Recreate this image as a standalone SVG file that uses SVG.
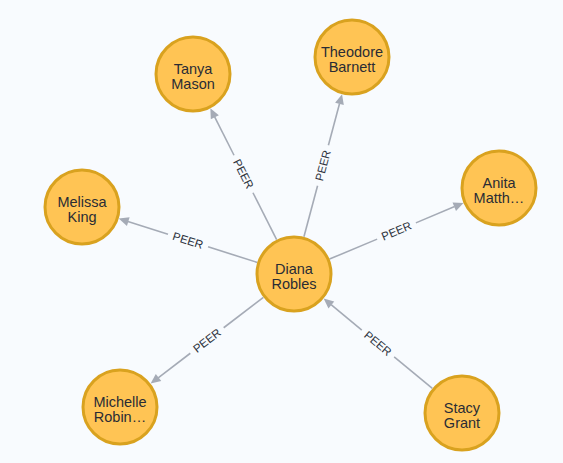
<svg xmlns="http://www.w3.org/2000/svg" width="563" height="463" viewBox="0 0 563 463">
<style>
.bg{fill:#f8fbfe}
.edge line{stroke:#a5abb6;stroke-width:1.6}
.edge polygon{fill:#a5abb6}
.elabel{font-family:"Liberation Sans",Arial,sans-serif;font-size:11.5px;fill:#2f3440;text-anchor:middle;dominant-baseline:central}
.node circle{fill:#ffc454;stroke:#d9a21f;stroke-width:3}
.node text{font-family:"Liberation Sans",Arial,sans-serif;font-size:14.5px;fill:#2a2c34;text-anchor:middle}
</style>
<rect class="bg" x="0" y="0" width="563" height="463"/>
<g id="connectors">
  <g class="edge" transform="translate(294,274) rotate(-116.8)">
    <line x1="38.5" y1="0" x2="91.03" y2="0"/><line x1="133.03" y1="0" x2="176" y2="0"/>
    <polygon points="185.56,0 175.56,-4.5 175.56,4.5"/>
    <text class="elabel" x="112.03" y="0" transform="rotate(180 112.03 0)">PEER</text>
  </g>
  <g class="edge" transform="translate(294,274) rotate(-75.04)">
    <line x1="38.5" y1="0" x2="91.3" y2="0"/><line x1="133.3" y1="0" x2="176.5" y2="0"/>
    <polygon points="186.1,0 176.1,-4.5 176.1,4.5"/>
    <text class="elabel" x="112.3" y="0">PEER</text>
  </g>
  <g class="edge" transform="translate(294,274) rotate(-162.46)">
    <line x1="38.5" y1="0" x2="90.15" y2="0"/><line x1="132.15" y1="0" x2="174.2" y2="0"/>
    <polygon points="183.8,0 173.8,-4.5 173.8,4.5"/>
    <text class="elabel" x="111.15" y="0" transform="rotate(180 111.15 0)">PEER</text>
  </g>
  <g class="edge" transform="translate(294,274) rotate(-22.76)">
    <line x1="38.5" y1="0" x2="90.15" y2="0"/><line x1="132.15" y1="0" x2="174.2" y2="0"/>
    <polygon points="183.8,0 173.8,-4.5 173.8,4.5"/>
    <text class="elabel" x="111.15" y="0">PEER</text>
  </g>
  <g class="edge" transform="translate(294,274) rotate(142.61)">
    <line x1="38.5" y1="0" x2="88.5" y2="0"/><line x1="130.5" y1="0" x2="170.9" y2="0"/>
    <polygon points="180.5,0 170.5,-4.5 170.5,4.5"/>
    <text class="elabel" x="109.5" y="0" transform="rotate(180 109.5 0)">PEER</text>
  </g>
  <g class="edge" transform="translate(462,413) rotate(-140.4)">
    <line x1="38.5" y1="0" x2="88.03" y2="0"/><line x1="130.03" y1="0" x2="169.9" y2="0"/>
    <polygon points="179.55,0 169.55,-4.5 169.55,4.5"/>
    <text class="elabel" x="109.03" y="0" transform="rotate(180 109.03 0)">PEER</text>
  </g>
</g>
<g id="node-diana" class="node"><circle cx="294" cy="274" r="37"/><text x="294" y="274"><tspan x="294">Diana</tspan><tspan x="294" dy="15">Robles</tspan></text></g>
<g id="node-tanya" class="node"><circle cx="193" cy="74" r="37"/><text x="193" y="74"><tspan x="193">Tanya</tspan><tspan x="193" dy="15">Mason</tspan></text></g>
<g id="node-theodore" class="node"><circle cx="352" cy="57" r="37"/><text x="352" y="57"><tspan x="352">Theodore</tspan><tspan x="352" dy="15">Barnett</tspan></text></g>
<g id="node-melissa" class="node"><circle cx="82" cy="207" r="37"/><text x="82" y="207"><tspan x="82">Melissa</tspan><tspan x="82" dy="15">King</tspan></text></g>
<g id="node-anita" class="node"><circle cx="499" cy="188" r="37"/><text x="499" y="188"><tspan x="499">Anita</tspan><tspan x="499" dy="15">Matth…</tspan></text></g>
<g id="node-michelle" class="node"><circle cx="120" cy="407" r="37"/><text x="120" y="407"><tspan x="120">Michelle</tspan><tspan x="120" dy="15">Robin…</tspan></text></g>
<g id="node-stacy" class="node"><circle cx="462" cy="413" r="37"/><text x="462" y="413"><tspan x="462">Stacy</tspan><tspan x="462" dy="15">Grant</tspan></text></g>
</svg>
